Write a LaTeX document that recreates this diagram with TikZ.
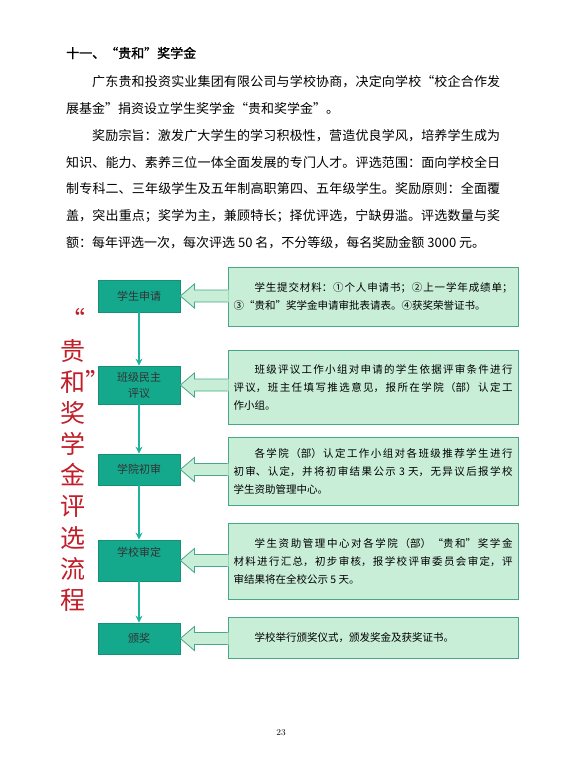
\documentclass[tikz,border=0pt]{standalone}
\usepackage{fontspec}
\usepackage{xcolor}
\newfontfamily\cjk{Noto Sans CJK SC}
\newfontfamily\cjkbold[FakeBold=1.2]{Noto Sans CJK SC}
\usetikzlibrary{arrows.meta,calc}
\definecolor{stagegreen}{RGB}{20,168,140}
\definecolor{stageborder}{RGB}{22,145,118}
\definecolor{notegreen}{RGB}{200,238,216}
\definecolor{noteborder}{RGB}{70,168,132}
\definecolor{linkgreen}{RGB}{30,180,155}
\definecolor{titlered}{RGB}{192,30,40}
\XeTeXlinebreaklocale "zh"
\XeTeXlinebreakskip=0pt plus 2pt

\begin{document}
\begin{tikzpicture}[x=1pt, y=-1pt, every node/.style={font=\cjk}]
  \tikzset{
    stagebox/.style={draw=stageborder, fill=stagegreen, line width=0.8pt, text=black!80, minimum width=82pt, inner sep=0pt, align=center, font=\cjk\fontsize{11}{16}\selectfont},
    notebox/.style={draw=noteborder, fill=notegreen, line width=1pt, minimum width=290pt, text width=279pt, inner xsep=5.5pt, inner ysep=0pt, align=justify, font=\cjk\fontsize{10.5}{18}\selectfont},
    link/.style={draw=linkgreen, line width=1.3pt, -{Stealth[length=7pt, width=7pt]}},
    blockfill/.style={fill=notegreen},
    blockline/.style={draw=noteborder, line width=0.8pt, line join=miter}
  }
  \useasboundingbox (0,0) rectangle (565,768);

  \node[anchor=west, inner sep=0pt, font=\cjkbold\fontsize{13}{13}\selectfont] (heading) at (66,53) {十一、“贵和”奖学金};
  \node[anchor=north west, inner sep=0pt, text width=434pt, align=justify, font=\cjk\fontsize{13}{26.7}\selectfont] (body) at (66,75.7) {\hspace*{2em}广东贵和投资实业集团有限公司与学校协商，决定向学校“校企合作发\linebreak 展基金”捐资设立学生奖学金“贵和奖学金”。\\\hspace*{2em}奖励宗旨：激发广大学生的学习积极性，营造优良学风，培养学生成为\linebreak 知识、能力、素养三位一体全面发展的专门人才。评选范围：面向学校全日\linebreak 制专科二、三年级学生及五年制高职第四、五年级学生。奖励原则：全面覆\linebreak 盖，突出重点；奖学为主，兼顾特长；择优评选，宁缺毋滥。评选数量与奖\linebreak 额：每年评选一次，每次评选 50 名，不分等级，每名奖励金额 3000 元。};

  \node[anchor=north, inner sep=0pt, align=center, text=titlered, font=\cjk\fontsize{25}{31.1}\selectfont] (title) at (73,308) {“\\贵\\和\rlap{”}\\奖\\学\\金\\评\\选\\流\\程};

  \node[stagebox, minimum height=32pt] (s1) at (139,296) {学生申请};
  \node[stagebox, minimum height=38pt] (s2) at (139,385) {班级民主\\评议};
  \node[stagebox, minimum height=31pt] (s3) at (139,469.5) {学院初审};
  \node[stagebox, minimum height=41pt, text depth=18pt] (s4) at (139,560.5) {学校审定};
  \node[stagebox, minimum height=31pt] (s5) at (139,638.5) {颁奖};

  \node[notebox, minimum height=59pt] (n1) at (373,296.5) {\hspace*{2em}学生提交材料：①个人申请书；②上一学年成绩单；\linebreak ③“贵和”奖学金申请审批表请表。④获奖荣誉证书。};
  \node[notebox, minimum height=74pt] (n2) at (373,387) {\hspace*{2em}班级评议工作小组对申请的学生依据评审条件进行\linebreak 评议，班主任填写推选意见，报所在学院（部）认定工\linebreak 作小组。};
  \node[notebox, minimum height=68pt] (n3) at (373,471) {\hspace*{2em}各学院（部）认定工作小组对各班级推荐学生进行\linebreak 初审、认定，并将初审结果公示 3 天，无异议后报学校\linebreak 学生资助管理中心。};
  \node[notebox, minimum height=76pt] (n4) at (373,561) {\hspace*{2em}学生资助管理中心对各学院（部）“贵和”奖学金\linebreak 材料进行汇总，初步审核，报学校评审委员会审定，评\linebreak 审结果将在全校公示 5 天。};
  \node[notebox, minimum height=41pt] (n5) at (373,637.5) {\hspace*{2em}学校举行颁奖仪式，颁发奖金及获奖证书。};

  \foreach \a/\b in {s1/s2, s2/s3, s3/s4, s4/s5}
    \draw[link] (\a) -- (\b);

  \foreach \s/\n in {s1/n1, s2/n2, s3/n3, s4/n4, s5/n5} {
    \fill[blockfill] (\s.east) -- ++(14,-12) -- ++(0,6) -- ($(\s.east -| \n.west)+(1.2,-6)$) -- ++(0,12) -- ($(\s.east)+(14,6)$) -- ++(0,6) -- cycle;
    \draw[blockline] ($(\s.east -| \n.west)+(0,-6)$) -- ($(\s.east)+(14,-6)$) -- ++(0,-6) -- (\s.east) -- ++(14,12) -- ++(0,-6) -- ($(\s.east -| \n.west)+(0,6)$);
  }

  \node[font=\fontsize{9}{9}\selectfont] (pageno) at (281,733) {23};
\end{tikzpicture}
\end{document}
